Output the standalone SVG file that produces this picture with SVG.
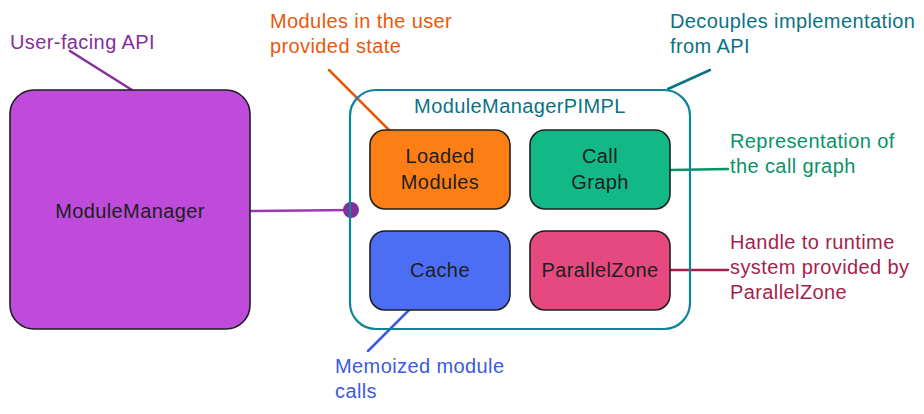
<svg xmlns="http://www.w3.org/2000/svg" width="924" height="414" viewBox="0 0 924 414">
<style>
text{font-family:"Liberation Sans",Arial,sans-serif;font-size:20px;letter-spacing:0.4px}
.box{stroke:#1e1e1e;stroke-width:1.6}
.lbl{fill:#1e1e1e;text-anchor:middle}
.conn{fill:none;stroke-width:2.5;stroke-linecap:round}
</style>
<rect width="924" height="414" fill="#ffffff"/>
<g id="connectors">
<line class="conn" x1="70" y1="51" x2="132" y2="90" stroke="#862e9c"/>
<line class="conn" x1="329" y1="70" x2="390" y2="131" stroke="#e8590c"/>
<line class="conn" x1="710" y1="70" x2="668" y2="89" stroke="#0b7285"/>
<line class="conn" x1="670" y1="170" x2="728" y2="169" stroke="#099268"/>
<line class="conn" x1="670" y1="270" x2="728" y2="270" stroke="#a61e4d" stroke-width="3"/>
<line class="conn" x1="410" y1="309" x2="368" y2="351" stroke="#3b5bdb"/>
<line class="conn" x1="251" y1="211" x2="351" y2="210" stroke="#9c36b5" stroke-width="2"/>
<circle cx="351" cy="210" r="8" fill="#862e9c"/>
</g>
<g id="ModuleManager">
<rect class="box" x="10" y="90" width="240" height="239" rx="24" fill="#be4bdb"/>
<text class="lbl" x="130" y="218">ModuleManager</text>
</g>
<g id="ModuleManagerPIMPL">
<rect x="350" y="90" width="340" height="239" rx="26" fill="none" stroke="#0c8599" stroke-width="2.2"/>
<text x="520" y="113" fill="#0b7285" text-anchor="middle">ModuleManagerPIMPL</text>
</g>
<g id="LoadedModules">
<rect class="box" x="370" y="130" width="140" height="79" rx="15" fill="#fd7e14"/>
<text class="lbl" x="440" y="163">Loaded</text>
<text class="lbl" x="440" y="189">Modules</text>
</g>
<g id="CallGraph">
<rect class="box" x="530" y="130" width="140" height="79" rx="15" fill="#12b886"/>
<text class="lbl" x="600" y="163">Call</text>
<text class="lbl" x="600" y="189">Graph</text>
</g>
<g id="Cache">
<rect class="box" x="370" y="231" width="140" height="79" rx="15" fill="#4c6ef5"/>
<text class="lbl" x="440" y="277">Cache</text>
</g>
<g id="ParallelZone">
<rect class="box" x="530" y="231" width="140" height="79" rx="15" fill="#e64980"/>
<text class="lbl" x="600" y="277">ParallelZone</text>
</g>
<g id="notes">
<text x="10" y="49" fill="#862e9c">User-facing API</text>
<text fill="#e8590c"><tspan x="270" y="28">Modules in the user</tspan><tspan x="270" y="53">provided state</tspan></text>
<text fill="#0b7285"><tspan x="670" y="28">Decouples implementation</tspan><tspan x="670" y="53">from API</tspan></text>
<text fill="#099268"><tspan x="730" y="148">Representation of</tspan><tspan x="730" y="173">the call graph</tspan></text>
<text fill="#a61e4d"><tspan x="730" y="249">Handle to runtime</tspan><tspan x="730" y="274">system provided by</tspan><tspan x="730" y="299">ParallelZone</tspan></text>
<text fill="#3b5bdb"><tspan x="335" y="373">Memoized module</tspan><tspan x="335" y="398">calls</tspan></text>
</g>
</svg>
